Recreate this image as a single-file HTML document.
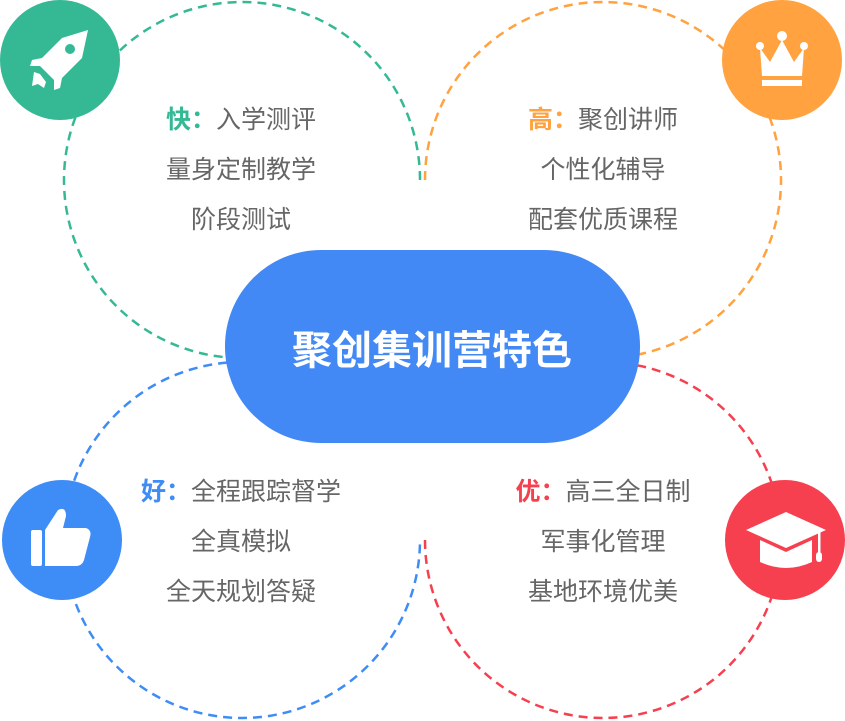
<!DOCTYPE html>
<html><head><meta charset="utf-8"><style>
html,body{margin:0;padding:0;background:#fff;}
svg{display:block;}
text{font-family:"Liberation Sans","Noto Sans CJK SC",sans-serif;}
</style></head><body>
<svg width="845" height="721" viewBox="0 0 845 721" xmlns="http://www.w3.org/2000/svg">
<g fill="none" stroke-width="2.5" stroke-dasharray="9 6">
<path d="M420 180 A178 178 0 1 0 242 358" stroke="#35b995"/>
<path d="M425 180 A178 178 0 1 1 603 358" stroke="#ffa23f"/>
<path d="M242 362 A178 178 0 1 0 420 540" stroke="#3e8cf6"/>
<path d="M425 540 A178 178 0 1 0 603 362" stroke="#f6404f"/>
</g>
<rect x="225" y="250" width="415" height="193" rx="96" fill="#4289f5"/>
<text x="432" y="364" text-anchor="middle" font-size="40" font-weight="bold" fill="#fff">聚创集训营特色</text>

<circle cx="60" cy="60" r="60" fill="#35b995"/>
<g fill="#fff">
<path d="M88 30 L62 38 L42 58 L32 60 L30 66 L40 66 L54 80 L54 90 L60 88 L62 78 L82 58 Z"/>
<circle cx="70" cy="49" r="5" fill="#35b995"/>
<path d="M34 72 L40 74 L46 82 L44 88 L38 84 L32 86 Z"/>
</g>
<circle cx="782" cy="60" r="60" fill="#ffa23f"/>
<g fill="#fff">
<circle cx="782" cy="36" r="5"/><circle cx="760" cy="46" r="4"/><circle cx="804" cy="46" r="4"/>
<path d="M760 48 L770 62 L782 40 L794 62 L804 48 L802 76 L762 76 Z"/>
<rect x="762" y="80" width="40" height="6"/>
</g>
<circle cx="62" cy="540" r="60" fill="#3e8cf6"/>
<g fill="#fff">
<rect x="31" y="530" width="11" height="36" rx="2"/>
<path d="M45 530 L58 510 Q66 506 66 516 L63 528 L86 528 Q92 530 90 537 L84 560 Q82 566 76 566 L45 566 Z"/>
</g>
<circle cx="785" cy="540" r="60" fill="#f6404f"/>
<g fill="#fff">
<path d="M746 530 L786 512 L826 530 L786 548 Z"/>
<path d="M760 540 L786 552 L812 540 L812 562 Q786 574 760 562 Z"/>
<rect x="818" y="532" width="2.5" height="24"/>
<rect x="816" y="552" width="6" height="10" rx="3"/>
</g>

<g font-size="25" fill="#666" text-anchor="middle">
<text x="241" y="128"><tspan fill="#35b995" font-weight="bold">快：</tspan>入学测评</text>
<text x="241" y="178">量身定制教学</text>
<text x="241" y="228">阶段测试</text>
<text x="603" y="128"><tspan fill="#ffa23f" font-weight="bold">高：</tspan>聚创讲师</text>
<text x="603" y="178">个性化辅导</text>
<text x="603" y="228">配套优质课程</text>
<text x="241" y="500"><tspan fill="#3e8cf6" font-weight="bold">好：</tspan>全程跟踪督学</text>
<text x="241" y="550">全真模拟</text>
<text x="241" y="600">全天规划答疑</text>
<text x="603" y="500"><tspan fill="#f6404f" font-weight="bold">优：</tspan>高三全日制</text>
<text x="603" y="550">军事化管理</text>
<text x="603" y="600">基地环境优美</text>
</g>
</svg>
</body></html>
